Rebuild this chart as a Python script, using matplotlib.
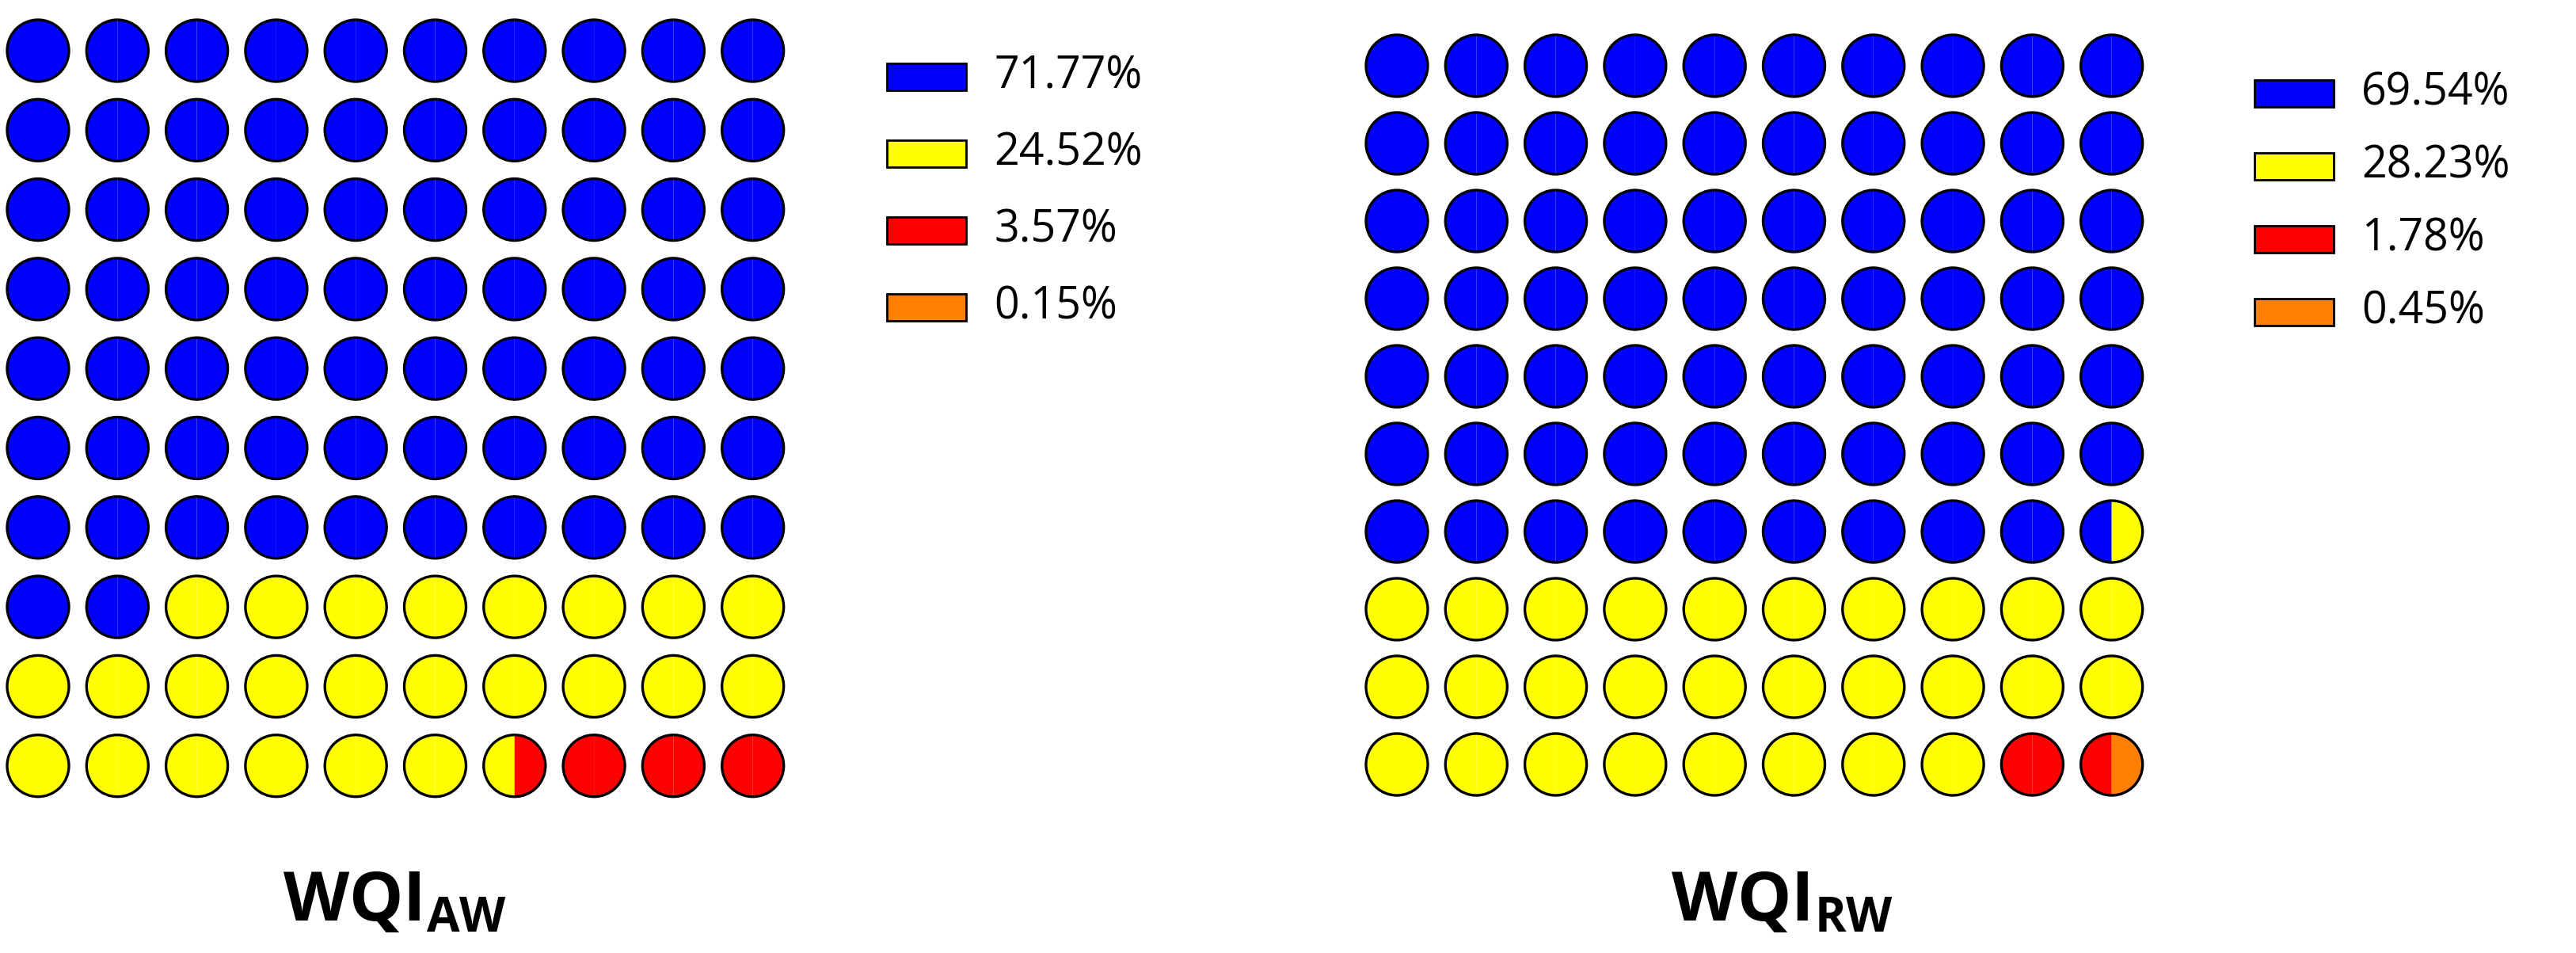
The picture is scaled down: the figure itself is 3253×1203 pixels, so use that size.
import matplotlib
matplotlib.use("Agg")
import matplotlib.pyplot as plt
from matplotlib.patches import Wedge, Circle, Rectangle

plt.rcParams['font.family'] = ['Open Sans', 'DejaVu Sans']
plt.rcParams['mathtext.fontset'] = 'custom'
plt.rcParams['mathtext.bf'] = 'Open Sans:bold'
plt.rcParams['mathtext.rm'] = 'Open Sans'

colors = ['#0000FF', '#FFFF00', '#FF0000', '#FF8000']
labels_aw = ['71.77%', '24.52%', '3.57%', '0.15%']
labels_rw = ['69.54%', '28.23%', '1.78%', '0.45%']
# number of circles (in halves) per category as drawn
halves_aw = [144, 49, 7, 0]
halves_rw = [139, 57, 3, 1]
titles = [r'$\mathbf{WQI_{AW}}$', r'$\mathbf{WQI_{RW}}$']

fig = plt.figure(figsize=(32.53, 12.03), dpi=100)
ax = fig.add_axes([0, 0, 1, 1])
ax.set_xlim(0, 3253); ax.set_ylim(1203, 0); ax.axis('off')

panels = [
    dict(halves=halves_aw, labels=labels_aw, x0=48, y0=64, dx=100.3, dy=100.3,
         lx=1120, ly0=97, ldy=97, title_x=498),
    dict(halves=halves_rw, labels=labels_rw, x0=1764, y0=83, dx=100.3, dy=98.0,
         lx=2847, ly0=118, ldy=92, title_x=2251),
]
r = 39
for pi, p in enumerate(panels):
    seq = []
    for ci, h in enumerate(p['halves']):
        seq += [ci] * h
    for k in range(100):
        row, col = divmod(k, 10)
        cx = p['x0'] + col * p['dx']; cy = p['y0'] + row * p['dy']
        a, b = seq[2 * k], seq[2 * k + 1]
        ax.add_patch(Wedge((cx, cy), r, 90, 270, facecolor=colors[a], edgecolor='none'))
        ax.add_patch(Wedge((cx, cy), r, -90, 90, facecolor=colors[b], edgecolor='none'))
        ax.add_patch(Circle((cx, cy), r, facecolor='none', edgecolor='black', lw=2.4))
    for i, lab in enumerate(p['labels']):
        y = p['ly0'] + i * p['ldy']
        ax.add_patch(Rectangle((p['lx'], y - 17), 100, 34, facecolor=colors[i],
                               edgecolor='black', lw=2))
        ax.text(p['lx'] + 135, y, lab, fontsize=40, va='center', ha='left')
    ax.text(p['title_x'], 1140, titles[pi], fontsize=62, ha='center', va='center')

fig.savefig('out.png', dpi=100)
